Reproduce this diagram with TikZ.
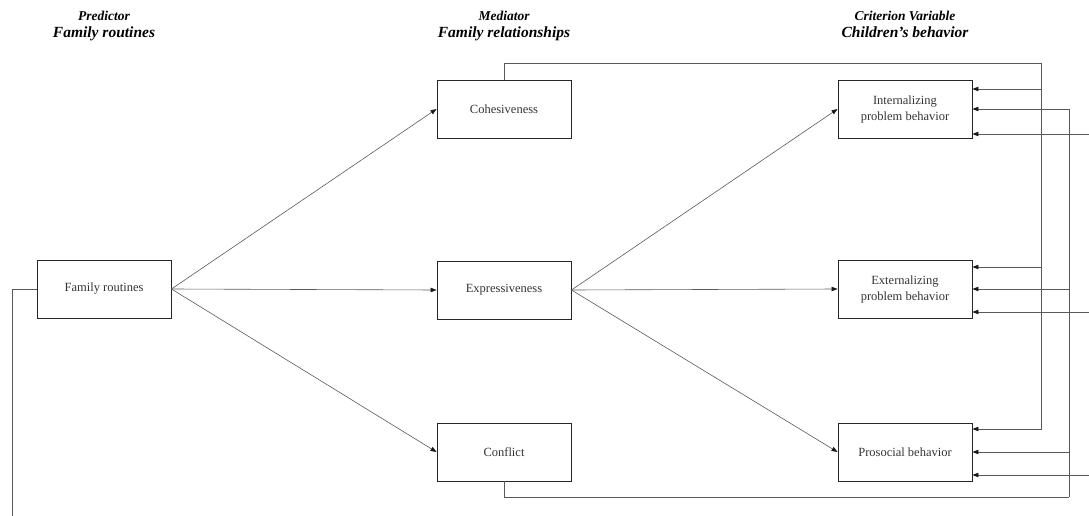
\documentclass[tikz,border=0pt]{standalone}
\usepackage{fontspec}
\setmainfont{Liberation Serif}
\usetikzlibrary{arrows.meta,calc}
\begin{document}
\begin{tikzpicture}[x=1pt,y=-1pt,
 box/.style={draw=black!85,line width=0.9pt,minimum width=134pt,minimum height=58pt,inner sep=0pt,align=center,font=\fontsize{12.5}{16}\selectfont,text=black!80},
 conn/.style={draw=black!65,line width=0.6pt},
 arr/.style={conn,-{Triangle[length=6pt,width=4.5pt,color=black!90]}},
 hsmall/.style={anchor=base,text=black,font=\bfseries\itshape\fontsize{13.5}{17}\selectfont},
 hbig/.style={anchor=base,text=black,font=\bfseries\itshape\fontsize{15.5}{17}\selectfont}]
\useasboundingbox (0,0) rectangle (1089,516);
\clip (0,0) rectangle (1089,516);
% headers
\node[hsmall] (h1a) at (104,21) {Predictor};
\node[hbig]   (h1b) at (104,38) {Family routines};
\node[hsmall] (h2a) at (504,21) {Mediator};
\node[hbig]   (h2b) at (504,38) {Family relationships};
\node[hsmall] (h3a) at (905,21) {Criterion Variable};
\node[hbig]   (h3b) at (905,38) {Children’s behavior};
% boxes
\node[box] (fam) at (104,289) {Family routines};
\node[box] (coh) at (504,109) {Cohesiveness};
\node[box] (exp) at (504,290) {Expressiveness};
\node[box] (con) at (504,452) {Conflict};
\node[box] (int) at (905,109) {Internalizing\\problem behavior};
\node[box] (ext) at (905,289) {Externalizing\\problem behavior};
\node[box] (pro) at (905,452) {Prosocial behavior};
% main paths
\draw[arr] (fam.east) -- (coh.west);
\draw[arr] (fam.east) -- (exp.west);
\draw[arr] (fam.east) -- (con.west);
\draw[arr] (exp.east) -- (int.west);
\draw[arr] (exp.east) -- (ext.west);
\draw[arr] (exp.east) -- (pro.west);
% cohesiveness loop
\coordinate (cA) at (1041,63);
\draw[conn] (coh.north) |- (cA);
\draw[arr] (cA) |- (pro.east |- 0,429);
\draw[arr] (cA |- 0,89) -- (int.east |- 0,89);
\draw[arr] (cA |- 0,267) -- (ext.east |- 0,267);
% conflict loop
\coordinate (cB) at (1069,497);
\draw[conn] (con.south) |- (cB);
\draw[arr] (cB) |- (int.east);
\draw[arr] (cB |- ext.east) -- (ext.east);
\draw[arr] (cB |- pro.east) -- (pro.east);
% family routines loop
\coordinate (fA) at (12,530);
\coordinate (fR) at (1100,0);
\draw[conn] (fam.west) -| (fA);
\draw[arr] (fR |- 0,134) -- (int.east |- 0,134);
\draw[arr] (fR |- 0,312) -- (ext.east |- 0,312);
\draw[arr] (fR |- 0,475) -- (pro.east |- 0,475);
\end{tikzpicture}
\end{document}
